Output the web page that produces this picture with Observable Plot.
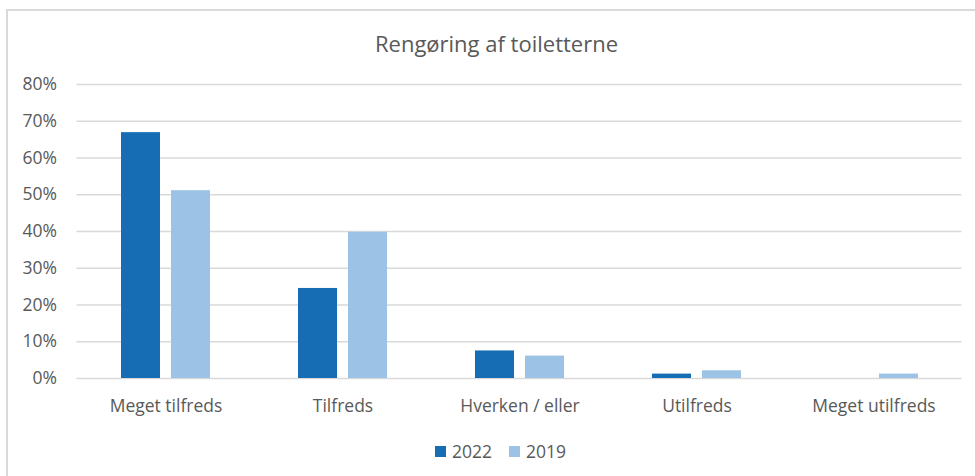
<!DOCTYPE html>
<html>
<head>
<meta charset="utf-8">
<script src="https://cdn.jsdelivr.net/npm/d3@7"></script>
<script src="https://cdn.jsdelivr.net/npm/@observablehq/plot@0.6"></script>
<style>
  html, body { margin: 0; padding: 0; background: #fff; }
  #chart { position: relative; width: 975px; height: 476px; overflow: hidden; background: #fff;
           font-family: "Open Sans", "Noto Sans", sans-serif; color: #595959; }
  #frame { position: absolute; left: 6px; top: 9px; right: -10px; bottom: -10px;
           border-top: 2px solid #d9d9d9; border-left: 2px solid #d9d9d9; }
  #title { position: absolute; top: 29px; left: 496.5px; transform: translateX(-50%);
           font-size: 22px; line-height: 28px; white-space: nowrap; }
  #plot { position: absolute; top: 66px; left: 0; }
  #legend { position: absolute; top: 438px; left: 0; width: 975px; height: 26px; }
  .item { position: absolute; top: 0; height: 26px; display: flex; align-items: center; font-size: 17.5px; }
  .sw { width: 11px; height: 11px; margin-right: 6px; }
</style>
</head>
<body>
<div id="chart">
  <div id="frame"></div>
  <div id="title"></div>
  <div id="plot"></div>
  <div id="legend"></div>
</div>
<script>
const chartTitle = "Rengøring af toiletterne";
const categories = ["Meget tilfreds", "Tilfreds", "Hverken / eller", "Utilfreds", "Meget utilfreds"];
const years = ["2022", "2019"];
const values2022 = [0.669, 0.245, 0.075, 0.012, 0.0];
const values2019 = [0.511, 0.398, 0.061, 0.021, 0.012];
const yTicks = [0, 0.1, 0.2, 0.3, 0.4, 0.5, 0.6, 0.7, 0.8];
const colors = {"2022": "#166db3", "2019": "#9cc2e5"};

const data2022 = categories.map((c, i) => ({category: c, year: "2022", value: values2022[i]}));
const data2019 = categories.map((c, i) => ({category: c, year: "2019", value: values2019[i]}));

document.getElementById("title").textContent = chartTitle;

const plot = Plot.plot({
  width: 975,
  height: 360,
  marginLeft: 76.5,
  marginRight: 13.5,
  marginTop: 18,
  marginBottom: 48,
  style: {fontFamily: "'Open Sans', 'Noto Sans', sans-serif", fontSize: "17.5px", color: "#595959", background: "transparent"},
  x: {domain: categories, paddingInner: 0.78, paddingOuter: 0.39, label: null, tickSize: 0, tickPadding: 21},
  y: {domain: [0, 0.8], ticks: yTicks, tickFormat: d3.format(".0%"), label: null, tickSize: 0, tickPadding: 20},
  marks: [
    Plot.ruleY(yTicks, {stroke: "#d9d9d9", strokeWidth: 1.5}),
    Plot.barY(data2022, {x: "category", y: "value", fill: colors["2022"], dx: -25}),
    Plot.barY(data2019, {x: "category", y: "value", fill: colors["2019"], dx: 25})
  ]
});
document.getElementById("plot").appendChild(plot);

const legend = document.getElementById("legend");
const legendX = {"2022": 435, "2019": 509};
years.forEach(y => {
  const item = document.createElement("div");
  item.className = "item";
  item.style.left = legendX[y] + "px";
  const sw = document.createElement("div");
  sw.className = "sw";
  sw.style.background = colors[y];
  const t = document.createElement("span");
  t.textContent = y;
  item.appendChild(sw);
  item.appendChild(t);
  legend.appendChild(item);
});
</script>
</body>
</html>
